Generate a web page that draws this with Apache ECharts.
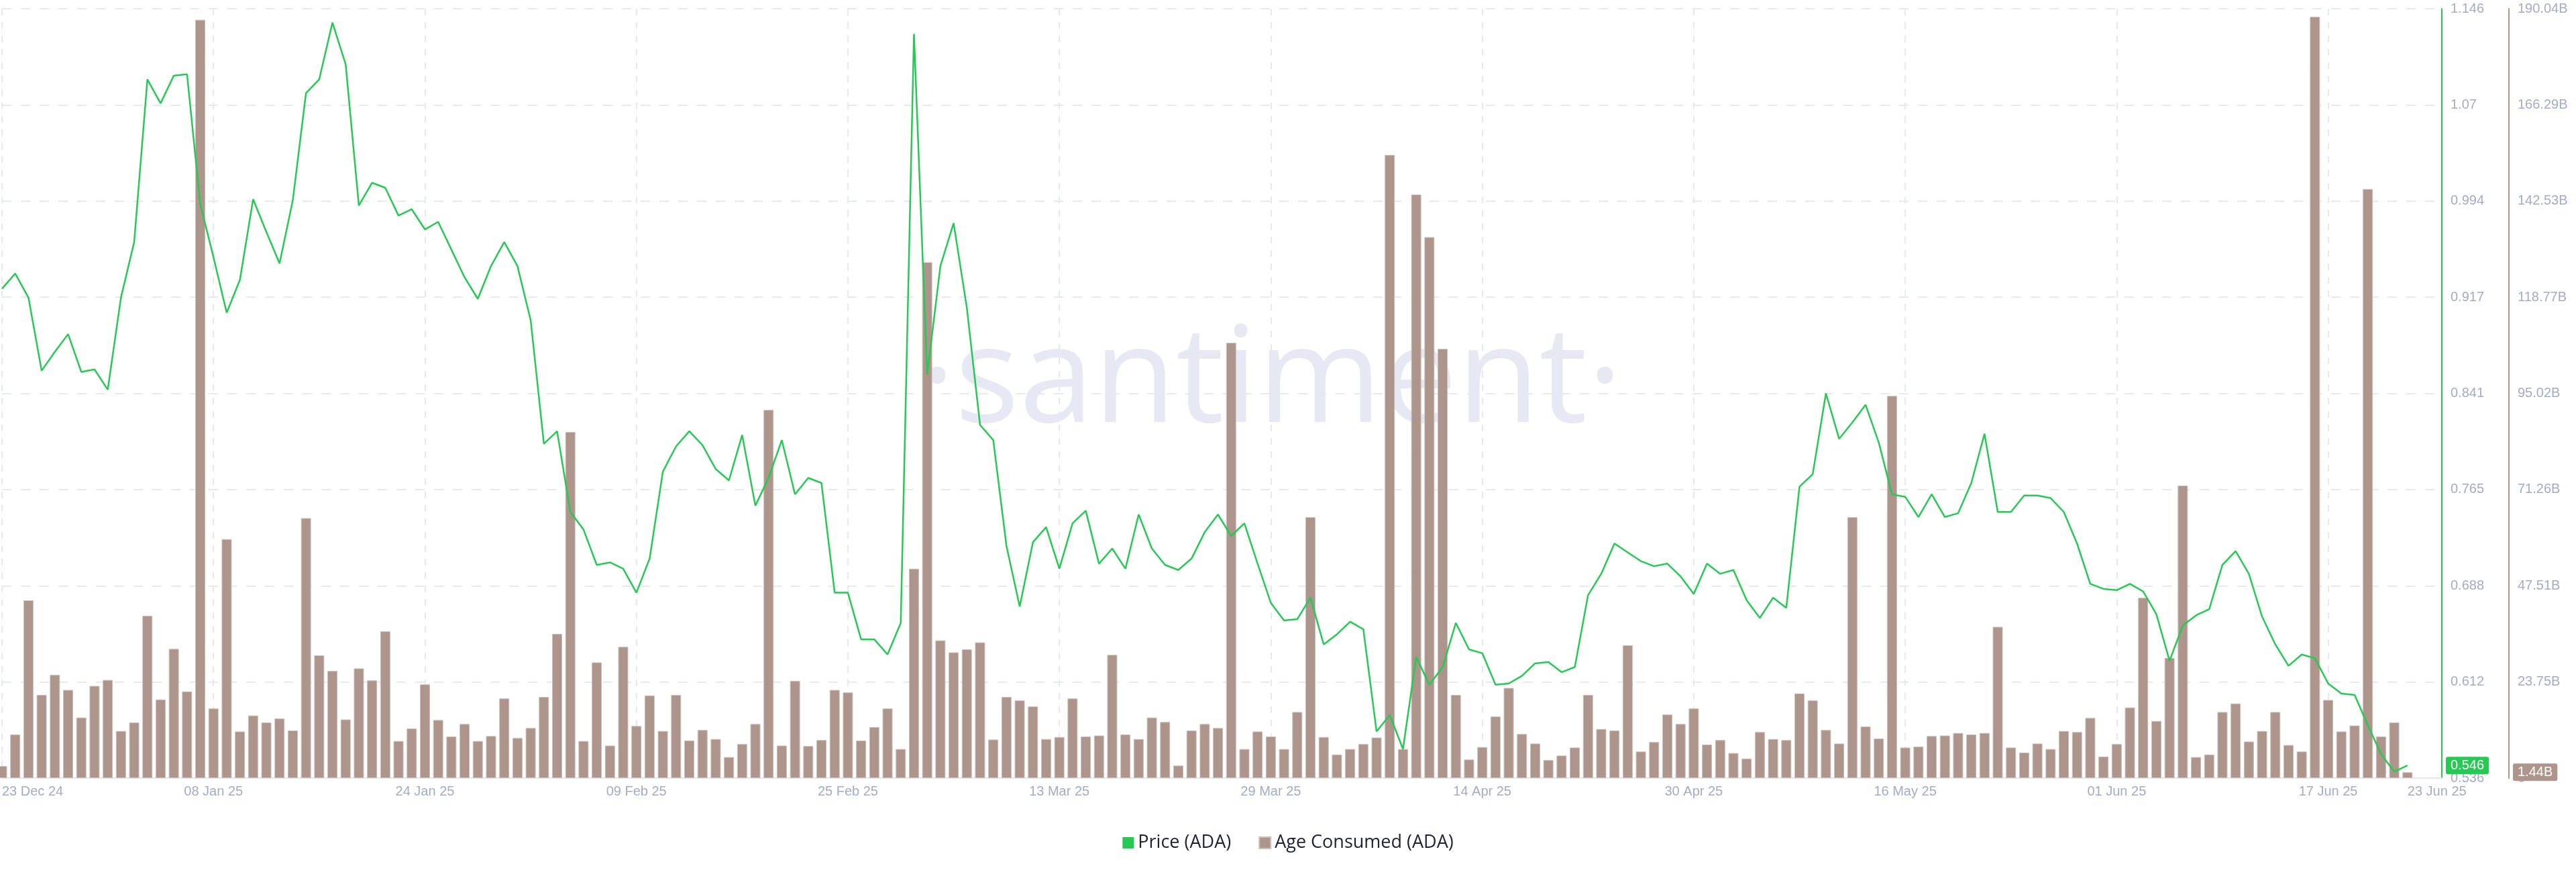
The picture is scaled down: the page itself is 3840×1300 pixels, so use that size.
<!DOCTYPE html>
<html><head><meta charset="utf-8">
<script src="https://cdn.jsdelivr.net/npm/echarts@6/dist/echarts.min.js"></script>
<style>html,body{margin:0;padding:0;background:#fff}#c{width:3840px;height:1300px}</style>
</head><body><div id="c"></div>
<script>
// Daily series, 23 Dec 2024 .. 23 Jun 2025 (183 days), index 0 = 23 Dec 24
const price = [
0.924,0.936,0.917,0.859,0.874,0.888,0.858,0.860,0.844,0.917,
0.961,1.090,1.071,1.093,1.094,0.991,0.949,0.905,0.931,0.995,
0.969,0.944,0.994,1.079,1.090,1.135,1.102,0.990,1.008,1.004,
0.982,0.987,0.971,0.977,0.955,0.933,0.916,0.942,0.961,0.942,
0.899,0.801,0.811,0.747,0.733,0.705,0.707,0.702,0.683,0.710,
0.779,0.799,0.811,0.800,0.781,0.772,0.808,0.752,0.774,0.804,
0.761,0.774,0.770,0.683,0.683,0.646,0.646,0.634,0.659,1.126,
0.856,0.942,0.976,0.909,0.816,0.804,0.720,0.672,0.723,0.735,
0.702,0.738,0.748,0.706,0.718,0.702,0.745,0.718,0.705,0.701,
0.710,0.731,0.745,0.728,0.738,0.706,0.675,0.661,0.662,0.679,
0.642,0.650,0.660,0.654,0.573,0.586,0.559,0.632,0.610,0.624,
0.659,0.638,0.635,0.610,0.611,0.617,0.627,0.628,0.620,0.624,
0.681,0.698,0.722,0.715,0.708,0.704,0.706,0.696,0.682,0.706,
0.698,0.701,0.677,0.663,0.679,0.671,0.767,0.777,0.841,0.805,
0.818,0.832,0.802,0.761,0.759,0.743,0.761,0.743,0.746,0.770,
0.809,0.747,0.747,0.760,0.760,0.758,0.747,0.722,0.690,0.686,
0.685,0.690,0.684,0.666,0.629,0.657,0.665,0.670,0.705,0.716,
0.698,0.664,0.642,0.625,0.634,0.631,0.611,0.603,0.602,0.578,
0.555,0.541,0.546
];
// Age Consumed, billions
const ageConsumedB = [
2.97,10.76,43.92,20.54,25.49,21.78,14.97,22.77,24.25,11.63,
13.73,40.09,19.42,31.92,21.40,187.3,17.20,59.02,11.51,15.47,
13.73,14.72,11.75,64.21,30.31,26.48,14.48,27.10,24.13,36.25,
9.16,12.25,23.14,14.35,10.27,13.36,9.16,10.39,19.67,9.90,
12.37,20.04,35.63,85.49,9.16,28.58,8.04,32.42,12.87,20.41,
11.63,20.54,9.28,11.88,9.65,5.20,8.41,13.36,90.94,8.04,
24.00,7.92,9.40,21.78,21.16,9.28,12.62,17.20,7.18,51.72,
127.43,34.02,31.06,31.80,33.53,9.53,20.04,19.18,17.69,9.65,
10.15,19.67,10.27,10.52,30.44,10.76,9.65,14.97,13.86,3.09,
11.75,13.36,12.37,107.52,7.18,11.51,10.27,7.18,16.33,64.46,
10.15,5.82,7.18,8.41,10.02,153.91,7.18,144.14,133.62,106.03,
20.54,4.58,7.67,15.22,22.27,10.89,8.54,4.45,5.57,7.55,
20.54,12.12,11.75,32.79,6.56,8.91,15.71,13.36,17.20,8.29,
9.40,6.19,4.83,11.38,9.65,9.40,20.91,19.18,11.88,8.54,
64.46,12.74,9.77,94.40,7.55,7.79,10.39,10.52,11.14,10.76,
11.14,37.36,7.55,6.31,8.54,7.18,11.63,11.38,14.85,5.32,
8.41,17.45,44.54,14.10,29.69,72.26,5.20,5.82,16.33,18.44,
9.03,11.63,16.33,8.17,6.56,188.06,19.30,11.51,12.99,145.50,
10.27,13.73,1.44
];
const xTickIndex = [0,16,32,48,64,80,96,112,128,144,160,176,182];
const xTickLabels = ['23 Dec 24','08 Jan 25','24 Jan 25','09 Feb 25','25 Feb 25','13 Mar 25','29 Mar 25','14 Apr 25','30 Apr 25','16 May 25','01 Jun 25','17 Jun 25','23 Jun 25'];
const priceTickLabels = ['0.536','0.612','0.688','0.765','0.841','0.917','0.994','1.07','1.146'];
const ageTickLabels = ['0','23.75B','47.51B','71.26B','95.02B','118.77B','142.53B','166.29B','190.04B'];
const priceMin = 0.536, priceStep = 0.07625;
const ageMax = 190.04, ageStep = 23.755;

const GREEN = '#26C953', BROWN = '#AD958B', AXISTXT = '#A3ACC6', GRIDC = '#E6E9F2';
const FONT = '"Liberation Sans", Arial, sans-serif';

const chart = echarts.init(document.getElementById('c'), null, {renderer: 'canvas'});
chart.setOption({
  animation: false,
  backgroundColor: '#fff',
  grid: {left: 0, right: 200, top: 13, bottom: 140, containLabel: false},
  graphic: [{
    type: 'text', x: 1895, y: 572, z: -10, silent: true,
    style: {text: '\u00B7santiment\u00B7', font: '200px "Open Sans", sans-serif', fill: '#E6E9F3', align: 'center', verticalAlign: 'middle'}
  }],
  legend: {
    top: 1238, left: 'center', itemWidth: 17, itemHeight: 17, itemGap: 41,
    textStyle: {fontSize: 27, color: '#1E2235', fontFamily: '"Open Sans", sans-serif', padding: [0,0,0,1]},
    data: [{name: 'Price (ADA)', icon: 'rect'}, {name: 'Age Consumed (ADA)', icon: 'rect'}]
  },
  xAxis: {
    type: 'value', min: 0, max: 184.6, interval: 16,
    axisLine: {show: true, onZero: false, lineStyle: {color: '#E3E5EF', width: 2}},
    axisTick: {show: false},
    splitLine: {show: true, lineStyle: {color: GRIDC, width: 2, type: [10, 10]}},
    axisLabel: {
      customValues: xTickIndex,
      formatter: function (v) { const k = xTickIndex.indexOf(Math.round(v)); return k >= 0 ? xTickLabels[k] : ''; },
      color: AXISTXT, fontSize: 20, fontFamily: FONT, margin: 10,
      alignMinLabel: 'left', alignMaxLabel: 'left'
    }
  },
  yAxis: [{
    type: 'value', position: 'right', min: priceMin, max: priceMin + 8 * priceStep, interval: priceStep,
    axisLine: {show: true, onZero: false, lineStyle: {color: GREEN, width: 2}},
    axisTick: {show: false},
    splitLine: {show: true, lineStyle: {color: GRIDC, width: 2, type: [14, 14]}},
    axisLabel: {color: AXISTXT, fontSize: 20, fontFamily: FONT, margin: 13, formatter: function (v, i) { return priceTickLabels[i]; }},
    axisPointer: {
      show: true, status: 'show', value: price[price.length - 1], snap: false, triggerTooltip: false,
      lineStyle: {opacity: 0, width: 0},
      label: {show: true, backgroundColor: GREEN, color: '#fff', fontSize: 20, fontFamily: FONT, padding: [3, 7, 3, 7], margin: 6,
        formatter: function (p) { return Number(p.value).toFixed(3); }}
    }
  }, {
    type: 'value', position: 'right', offset: 100, min: 0, max: ageMax, interval: ageStep,
    axisLine: {show: true, onZero: false, lineStyle: {color: BROWN, width: 2}},
    axisTick: {show: false},
    splitLine: {show: false},
    axisLabel: {color: AXISTXT, fontSize: 20, fontFamily: FONT, margin: 13, formatter: function (v, i) { return ageTickLabels[i]; }},
    axisPointer: {
      show: true, status: 'show', value: ageConsumedB[ageConsumedB.length - 1], snap: false, triggerTooltip: false,
      lineStyle: {opacity: 0, width: 0},
      label: {show: true, backgroundColor: BROWN, color: '#fff', fontSize: 20, fontFamily: FONT, padding: [3, 7, 3, 7], margin: 6,
        formatter: function (p) { return Number(p.value).toFixed(2) + 'B'; }}
    }
  }],
  axisPointer: {triggerOn: 'none'},
  series: [{
    name: 'Price (ADA)', type: 'line', yAxisIndex: 0, z: 5,
    data: price.map(function (v, i) { return [i, v]; }),
    symbol: 'none', lineStyle: {color: GREEN, width: 2.5}, itemStyle: {color: GREEN}
  }, {
    name: 'Age Consumed (ADA)', type: 'bar', yAxisIndex: 1, z: 2,
    data: ageConsumedB.map(function (v, i) { return [i, v]; }),
    barWidth: 15, itemStyle: {color: BROWN, borderColor: '#CDBFB9', borderWidth: 1}
  }]
});
</script>
</body></html>
